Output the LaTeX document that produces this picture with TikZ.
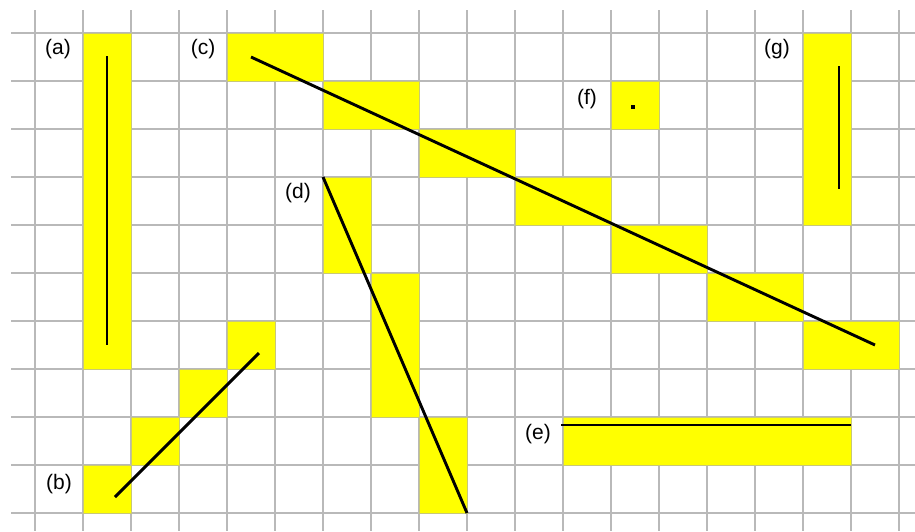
\documentclass[tikz,border=0pt]{standalone}
\usepackage{fontspec}
\setmainfont{Liberation Sans}
\definecolor{cellyellow}{RGB}{255,255,0}
\definecolor{celledge}{RGB}{200,200,120}
\definecolor{gridgray}{RGB}{185,185,185}
\begin{document}
\begin{tikzpicture}[x=1pt,y=-1pt,
  gridline/.style={draw=gridgray, line width=1.2pt},
  cell/.style={fill=cellyellow, draw=celledge, line width=0.5pt},
  seg/.style={draw=black, line width=2.9pt},
  lbl/.style={font=\fontsize{21}{23}\selectfont, inner sep=0pt}]
\useasboundingbox (0,0) rectangle (915,531);
\fill[white] (0,0) rectangle (915,531);
% grid
\foreach \i in {0,...,18} \draw[gridline] ({35+48*\i},10) -- ({35+48*\i},531);
\foreach \j in {0,...,10} \draw[gridline] (11,{33+48*\j}) -- (915,{33+48*\j});
% (a)
\draw[cell] (83,33) rectangle (131,369);
% (b)
\draw[cell] (83,465) rectangle (131,513);
\draw[cell] (131,417) rectangle (179,465);
\draw[cell] (179,369) rectangle (227,417);
\draw[cell] (227,321) rectangle (275,369);
% (c)
\draw[cell] (227,33) rectangle (323,81);
\draw[cell] (323,81) rectangle (419,129);
\draw[cell] (419,129) rectangle (515,177);
\draw[cell] (515,177) rectangle (611,225);
\draw[cell] (611,225) rectangle (707,273);
\draw[cell] (707,273) rectangle (803,321);
\draw[cell] (803,321) rectangle (899,369);
% (d)
\draw[cell] (323,177) rectangle (371,273);
\draw[cell] (371,273) rectangle (419,417);
\draw[cell] (419,417) rectangle (467,513);
% (e)
\draw[cell] (563,417) rectangle (851,465);
% (f)
\draw[cell] (611,81) rectangle (659,129);
% (g)
\draw[cell] (803,33) rectangle (851,225);
% labels
\node[lbl] (la) at (58,49) {(a)};
\node[lbl] (lb) at (59,484) {(b)};
\node[lbl] (lc) at (203,49) {(c)};
\node[lbl] (ld) at (298,193) {(d)};
\node[lbl] (le) at (538,434) {(e)};
\node[lbl] (lf) at (587,99) {(f)};
\node[lbl] (lg) at (777,49) {(g)};
% segments
\coordinate (a1) at (107,56); \coordinate (a2) at (107,345);
\coordinate (b1) at (115,497); \coordinate (b2) at (259,353);
\coordinate (c1) at (251,57); \coordinate (c2) at (875,345);
\coordinate (d1) at (323,177); \coordinate (d2) at (467,513);
\coordinate (e1) at (561,425); \coordinate (e2) at (851,425);
\coordinate (g1) at (839,66); \coordinate (g2) at (839,189);
\draw[seg] (a1) -- (a2);
\draw[seg] (b1) -- (b2);
\draw[seg] (c1) -- (c2);
\draw[seg] (d1) -- (d2);
\draw[seg] (e1) -- (e2);
\draw[seg] (g1) -- (g2);
\node[fill=black, minimum size=4pt, inner sep=0pt] (fdot) at (633,107) {};
\end{tikzpicture}
\end{document}
